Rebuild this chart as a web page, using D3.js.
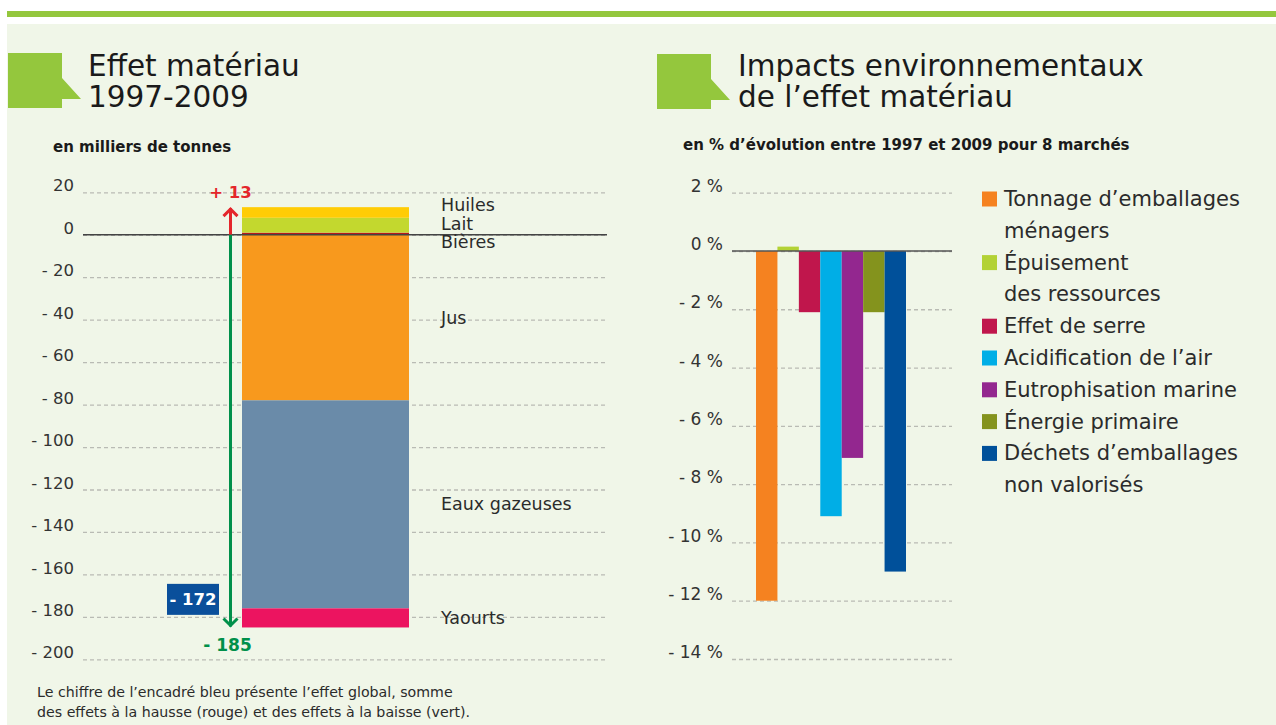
<!DOCTYPE html>
<html>
<head>
<meta charset="utf-8">
<script src="https://d3js.org/d3.v7.min.js"></script>
<style>
  body { margin: 0; background: #fff; }
  svg { display: block; font-family: "DejaVu Sans", sans-serif; }
</style>
</head>
<body>
<svg id="chart"></svg>
<script>
// Data: effet matériau (milliers de tonnes)
const materials = ["Huiles", "Lait", "Bières", "Jus", "Eaux gazeuses", "Yaourts"];
const materialValues = [5, 7, 1, -78, -98, -9];
const materialColors = ["#ffcc05", "#c3d82e", "#b5191c", "#f8991d", "#6a8ba9", "#ec1460"];
const stackOrder = ["Bières", "Lait", "Huiles", "Jus", "Eaux gazeuses", "Yaourts"];
const leftTicks = [20, 0, -20, -40, -60, -80, -100, -120, -140, -160, -180, -200];
const effectUp = 13;
const effectDown = -185;
const effectNet = -172;

// Data: impacts environnementaux (% d'évolution 1997-2009)
const impacts = [
  "Tonnage d’emballages ménagers",
  "Épuisement des ressources",
  "Effet de serre",
  "Acidification de l’air",
  "Eutrophisation marine",
  "Énergie primaire",
  "Déchets d’emballages non valorisés"
];
const impactLegendLines = [
  ["Tonnage d’emballages", "ménagers"],
  ["Épuisement", "des ressources"],
  ["Effet de serre"],
  ["Acidification de l’air"],
  ["Eutrophisation marine"],
  ["Énergie primaire"],
  ["Déchets d’emballages", "non valorisés"]
];
const impactValues = [-12, 0.15, -2.1, -9.1, -7.1, -2.1, -11];
const impactColors = ["#f58220", "#b3d235", "#c0164c", "#00aee6", "#93278f", "#84931d", "#00509a"];
const rightTicks = [2, 0, -2, -4, -6, -8, -10, -12, -14];

const W = 1276, H = 725;
const svg = d3.select("#chart").attr("width", W).attr("height", H);
const textColor = "#2b2b2b";

// background
svg.append("rect").attr("width", W).attr("height", H).attr("fill", "#fff");
svg.append("rect").attr("x", 7).attr("y", 11).attr("width", W - 7).attr("height", 6).attr("fill", "#94c73d");
svg.append("rect").attr("x", 7).attr("y", 24).attr("width", W - 7).attr("height", H - 24).attr("fill", "#f0f6e8");

const titleMarker = (x, y) => {
  svg.append("path")
    .attr("fill", "#94c73d")
    .attr("d", `M${x},${y}H${x + 54}V${y + 25}L${x + 73},${y + 46}H${x + 54}V${y + 55}H${x}Z`);
};
const title = (x, lines) => {
  lines.forEach((l, i) => {
    svg.append("text").attr("x", x).attr("y", 76 + i * 31)
      .attr("font-size", 29.5).attr("fill", "#1a1a1a").text(l);
  });
};
titleMarker(8, 53);
title(88, ["Effet matériau", "1997-2009"]);
titleMarker(657, 54);
title(738, ["Impacts environnementaux", "de l’effet matériau"]);

svg.append("text").attr("x", 53).attr("y", 152).attr("font-size", 15).attr("font-weight", "bold")
  .attr("fill", "#1a1a1a").text("en milliers de tonnes");
svg.append("text").attr("x", 683).attr("y", 150).attr("font-size", 15).attr("font-weight", "bold")
  .attr("fill", "#1a1a1a").text("en % d’évolution entre 1997 et 2009 pour 8 marchés");

const fmtNeg = (d) => (d < 0 ? "- " + -d : "" + d);

const styleAxis = (g, size) => {
  g.attr("font-size", size).attr("font-family", null);
  g.select(".domain").remove();
  g.selectAll(".tick line")
    .attr("stroke", "#b9bbb4").attr("stroke-width", 1.3).attr("stroke-dasharray", "4,3");
  g.selectAll(".tick text")
    .attr("fill", "#333").attr("dy", "-0.08em");
};

// ---------- Left chart ----------
const yL = d3.scaleLinear().domain([20, -200]).range([192.3, 659.3]);
const xL = d3.scaleBand().domain(["1997-2009"]).range([242, 409]);
const gridL = [83, 607];

svg.append("g")
  .attr("transform", `translate(${gridL[0]},0)`)
  .call(d3.axisLeft(yL).tickValues(leftTicks).tickFormat(fmtNeg)
    .tickSize(-(gridL[1] - gridL[0])).tickPadding(9))
  .call(styleAxis, 16.5);

const row = {};
materials.forEach((m, i) => (row[m] = materialValues[i]));
const colorL = d3.scaleOrdinal().domain(materials).range(materialColors);
const stacked = d3.stack().keys(stackOrder).offset(d3.stackOffsetDiverging)([row]);

svg.append("g").selectAll("rect")
  .data(stacked)
  .join("rect")
  .attr("x", xL("1997-2009"))
  .attr("width", xL.bandwidth())
  .attr("y", (s) => yL(Math.max(s[0][0], s[0][1])))
  .attr("height", (s) => Math.abs(yL(s[0][0]) - yL(s[0][1])))
  .attr("fill", (s) => colorL(s.key));

// zero line
svg.append("line").attr("x1", gridL[0]).attr("x2", gridL[1])
  .attr("y1", yL(0)).attr("y2", yL(0)).attr("stroke", "#444").attr("stroke-width", 1.4);

// segment labels
const labelX = 441;
const posKeys = materials.filter((m) => row[m] > 0);
posKeys.forEach((m, i) => {
  svg.append("text").attr("x", labelX).attr("y", yL(effectUp) + 4 + i * 18.5)
    .attr("font-size", 17.5).attr("fill", textColor).text(m);
});
stacked.filter((s) => row[s.key] < 0).forEach((s) => {
  svg.append("text").attr("x", labelX).attr("y", (yL(s[0][0]) + yL(s[0][1])) / 2 + 6)
    .attr("font-size", 17.5).attr("fill", textColor).text(s.key);
});

// arrows
const ax = 230.5;
const red = "#e4262b", green = "#00904a";
svg.append("line").attr("x1", ax).attr("x2", ax).attr("y1", yL(0)).attr("y2", yL(effectUp) + 1)
  .attr("stroke", red).attr("stroke-width", 3);
svg.append("path").attr("fill", "none").attr("stroke", red).attr("stroke-width", 3)
  .attr("d", `M${ax - 7},${yL(effectUp) + 9}L${ax},${yL(effectUp) + 2}L${ax + 7},${yL(effectUp) + 9}`);
svg.append("line").attr("x1", ax).attr("x2", ax).attr("y1", yL(0)).attr("y2", yL(effectDown) - 1)
  .attr("stroke", green).attr("stroke-width", 3);
svg.append("path").attr("fill", "none").attr("stroke", green).attr("stroke-width", 3)
  .attr("d", `M${ax - 7},${yL(effectDown) - 9}L${ax},${yL(effectDown) - 2}L${ax + 7},${yL(effectDown) - 9}`);

svg.append("text").attr("x", ax).attr("y", yL(effectUp) - 9).attr("text-anchor", "middle")
  .attr("font-size", 16.5).attr("font-weight", "bold").attr("fill", red).text("+ " + effectUp);
svg.append("text").attr("x", ax - 3).attr("y", yL(effectDown) + 24).attr("text-anchor", "middle")
  .attr("font-size", 17).attr("font-weight", "bold").attr("fill", green).text(fmtNeg(effectDown));

// net effect box
const boxY = yL(effectNet);
svg.append("rect").attr("x", 167).attr("y", boxY - 16).attr("width", 52).attr("height", 31).attr("fill", "#0a4f9b");
svg.append("text").attr("x", 193).attr("y", boxY + 5.5).attr("text-anchor", "middle")
  .attr("font-size", 16.5).attr("font-weight", "bold").attr("fill", "#fff").text(fmtNeg(effectNet));

// footnote
["Le chiffre de l’encadré bleu présente l’effet global, somme",
 "des effets à la hausse (rouge) et des effets à la baisse (vert)."].forEach((t, i) => {
  svg.append("text").attr("x", 37).attr("y", 696.5 + i * 20.5)
    .attr("font-size", 14.2).attr("fill", textColor).text(t);
});

// ---------- Right chart ----------
const yR = d3.scaleLinear().domain([2, -14]).range([192.7, 659]);
const xR = d3.scaleBand().domain(impacts).range([756, 906]).padding(0);
const gridR = [732, 952];
const colorR = d3.scaleOrdinal().domain(impacts).range(impactColors);

svg.append("g")
  .attr("transform", `translate(${gridR[0]},0)`)
  .call(d3.axisLeft(yR).tickValues(rightTicks).tickFormat((d) => fmtNeg(d) + " %")
    .tickSize(-(gridR[1] - gridR[0])).tickPadding(9))
  .call(styleAxis, 17);

svg.append("g").selectAll("rect")
  .data(impacts)
  .join("rect")
  .attr("x", (d) => xR(d))
  .attr("width", xR.bandwidth())
  .attr("y", (d, i) => yR(Math.max(0, impactValues[i])))
  .attr("height", (d, i) => Math.abs(yR(impactValues[i]) - yR(0)))
  .attr("fill", (d) => colorR(d));

svg.append("line").attr("x1", gridR[0]).attr("x2", gridR[1])
  .attr("y1", yR(0)).attr("y2", yR(0)).attr("stroke", "#555").attr("stroke-width", 1.4);

// legend
const legend = svg.append("g").attr("transform", "translate(982,206)");
let line = 0;
impactLegendLines.forEach((lines, i) => {
  legend.append("rect").attr("x", 0).attr("y", line * 31.8 - 14.5)
    .attr("width", 15).attr("height", 15).attr("fill", colorR(impacts[i]));
  lines.forEach((t) => {
    legend.append("text").attr("x", 22).attr("y", line * 31.8)
      .attr("font-size", 21).attr("fill", textColor).text(t);
    line++;
  });
});
</script>
</body>
</html>
